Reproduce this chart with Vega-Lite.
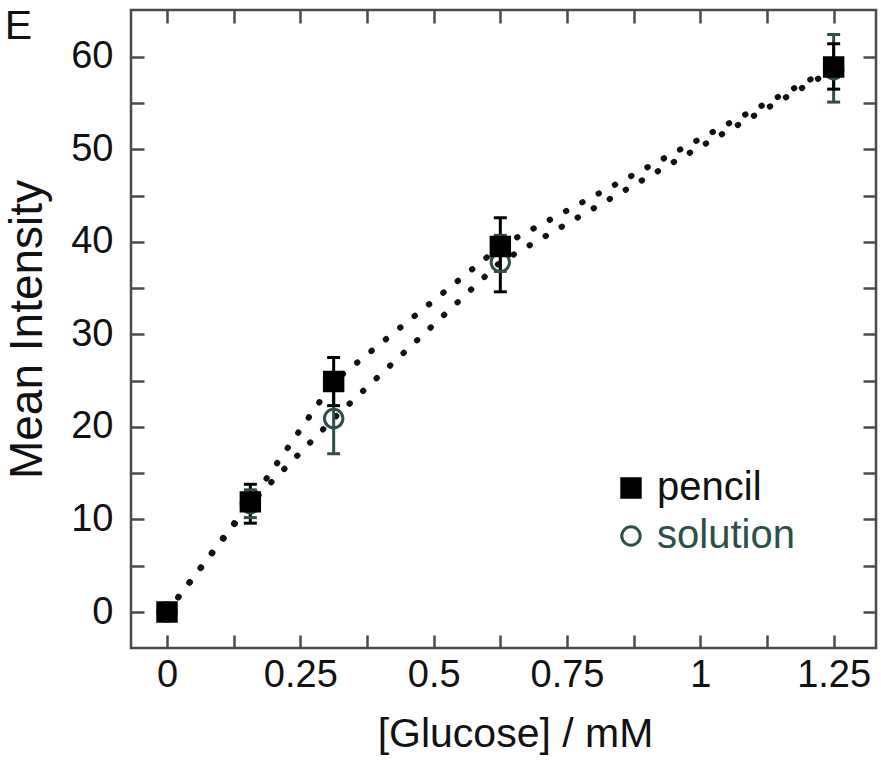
{
  "$schema": "https://vega.github.io/schema/vega-lite/v6.json",
  "width": 745,
  "height": 638,
  "autosize": {"type": "none"},
  "padding": {"left": 131, "top": 10, "right": 5, "bottom": 113},
  "background": "white",
  "title": {"text": "E", "anchor": "start", "frame": "bounds", "fontSize": 41, "fontWeight": "normal", "font": "Liberation Sans", "color": "#111111", "offset": -39},
  "config": {
    "font": "Liberation Sans",
    "view": {"stroke": "#4a4a4a", "strokeWidth": 2.5}
  },
  "data": {
    "values": [
      {"series": "solution", "x": 0, "y": 0, "lo": -0.6, "hi": 0.6},
      {"series": "solution", "x": 0.15625, "y": 11.7, "lo": 10.2, "hi": 13.2},
      {"series": "solution", "x": 0.3125, "y": 20.9, "lo": 17.1, "hi": 24.7},
      {"series": "solution", "x": 0.625, "y": 37.8, "lo": 36.8, "hi": 40.7},
      {"series": "solution", "x": 1.25, "y": 58.6, "lo": 55.1, "hi": 62.4},
      {"series": "pencil", "x": 0, "y": 0, "lo": -0.6, "hi": 0.6},
      {"series": "pencil", "x": 0.15625, "y": 11.9, "lo": 9.6, "hi": 13.8},
      {"series": "pencil", "x": 0.3125, "y": 24.9, "lo": 22.3, "hi": 27.5},
      {"series": "pencil", "x": 0.625, "y": 39.5, "lo": 34.6, "hi": 42.6},
      {"series": "pencil", "x": 1.25, "y": 58.9, "lo": 56.5, "hi": 61.4}
    ]
  },
  "layer": [
    {
      "mark": {"type": "line", "strokeDash": [0.5, 18], "strokeCap": "round", "strokeWidth": 6, "color": "#111111"},
      "encoding": {
        "x": {"field": "x", "type": "quantitative", "scale": {"domain": [-0.0675, 1.3294], "nice": false, "zero": false},
          "axis": {"orient": "bottom", "values": [0, 0.125, 0.25, 0.375, 0.5, 0.625, 0.75, 0.875, 1, 1.125, 1.25],
            "labelExpr": "round(datum.value*8) % 2 == 0 ? '' + datum.value : ''",
            "tickSize": -13, "tickWidth": 2.5, "tickColor": "#4a4a4a", "domain": false, "grid": false,
            "labelFontSize": 38, "labelColor": "#111111", "labelPadding": 21, "labelOverlap": false, "labelFlush": false,
            "title": "[Glucose] / mM", "titleFontSize": 41, "titleFontWeight": "normal", "titleColor": "#111111", "titlePadding": 20, "titleX": 384}},
        "y": {"field": "y", "type": "quantitative", "scale": {"domain": [-3.89, 65.05], "nice": false, "zero": false},
          "axis": {"orient": "left", "values": [0, 5, 10, 15, 20, 25, 30, 35, 40, 45, 50, 55, 60],
            "labelExpr": "datum.value % 10 == 0 ? '' + datum.value : ''",
            "tickSize": -13, "tickWidth": 2.5, "tickColor": "#4a4a4a", "domain": false, "grid": false,
            "labelFontSize": 38, "labelColor": "#111111", "labelPadding": 31, "labelOverlap": false, "labelFlush": false,
            "title": "Mean Intensity", "titleFontSize": 46, "titleFontWeight": "normal", "titleColor": "#111111", "titlePadding": 19}},
        "detail": {"field": "series"}
      }
    },
    {
      "mark": {"type": "rule", "strokeWidth": 3},
      "encoding": {
        "x": {"field": "x", "type": "quantitative", "scale": {"domain": [-0.0675, 1.3294], "nice": false, "zero": false},
          "axis": {"orient": "top", "values": [0, 0.125, 0.25, 0.375, 0.5, 0.625, 0.75, 0.875, 1, 1.125, 1.25],
            "labels": false, "tickSize": -13, "tickWidth": 2.5, "tickColor": "#4a4a4a", "domain": false, "grid": false, "title": null}},
        "y": {"field": "lo", "type": "quantitative", "scale": {"domain": [-3.89, 65.05], "nice": false, "zero": false},
          "axis": {"orient": "right", "values": [0, 5, 10, 15, 20, 25, 30, 35, 40, 45, 50, 55, 60],
            "labels": false, "tickSize": -13, "tickWidth": 2.5, "tickColor": "#4a4a4a", "domain": false, "grid": false, "title": null}},
        "y2": {"field": "hi"},
        "color": {"field": "series", "type": "nominal", "scale": {"domain": ["solution", "pencil"], "range": ["#2d4f49", "#000000"]}, "legend": null}
      }
    },
    {
      "mark": {"type": "tick", "orient": "horizontal", "size": 13, "thickness": 3, "opacity": 1},
      "encoding": {
        "x": {"field": "x", "type": "quantitative", "axis": null},
        "y": {"field": "lo", "type": "quantitative", "axis": null},
        "color": {"field": "series", "type": "nominal", "scale": {"domain": ["solution", "pencil"], "range": ["#2d4f49", "#000000"]}, "legend": null}
      }
    },
    {
      "mark": {"type": "tick", "orient": "horizontal", "size": 13, "thickness": 3, "opacity": 1},
      "encoding": {
        "x": {"field": "x", "type": "quantitative", "axis": null},
        "y": {"field": "hi", "type": "quantitative", "axis": null},
        "color": {"field": "series", "type": "nominal", "scale": {"domain": ["solution", "pencil"], "range": ["#2d4f49", "#000000"]}, "legend": null}
      }
    },
    {
      "mark": {"type": "point", "strokeWidth": 3, "opacity": 1, "size": 340},
      "encoding": {
        "x": {"field": "x", "type": "quantitative", "axis": null},
        "y": {"field": "y", "type": "quantitative", "axis": null},
        "shape": {"field": "series", "type": "nominal", "scale": {"domain": ["pencil", "solution"], "range": ["square", "circle"]},
          "legend": {"orient": "none", "legendX": 480, "legendY": 458, "title": null, "labelFontSize": 40,
            "labelColor": {"expr": "datum.value === 'solution' ? '#2d4f49' : '#111111'"},
            "symbolSize": 340, "symbolStrokeWidth": 3, "labelOffset": 6, "rowPadding": 8}},
        "fill": {"field": "series", "type": "nominal", "scale": {"domain": ["pencil", "solution"], "range": ["#000000", "transparent"]}},
        "stroke": {"field": "series", "type": "nominal", "scale": {"domain": ["pencil", "solution"], "range": ["#000000", "#2d4f49"]}}
      }
    }
  ],
  "resolve": {"axis": {"x": "independent", "y": "independent"}}
}
